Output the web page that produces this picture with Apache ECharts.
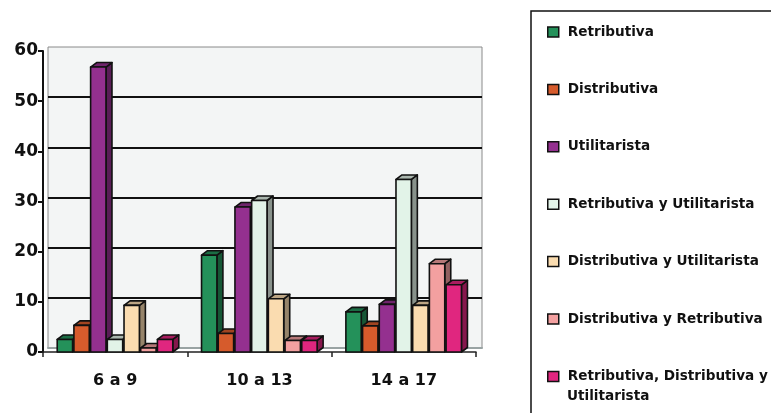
<!DOCTYPE html>
<html><head><meta charset="utf-8">
<script src="https://cdn.jsdelivr.net/npm/echarts@6/dist/echarts.min.js"></script>
<style>html,body{margin:0;padding:0;background:#fff}#c{width:771px;height:413px}</style>
</head><body><div id="c"></div>
<script>
const categories = ['6 a 9', '10 a 13', '14 a 17'];
const seriesNames = ['Retributiva', 'Distributiva', 'Utilitarista', 'Retributiva y Utilitarista', 'Distributiva y Utilitarista', 'Distributiva y Retributiva', 'Retributiva, Distributiva y Utilitarista'];
const retributiva = [2.5, 19.3, 8.0];
const distributiva = [5.3, 3.7, 5.2];
const utilitarista = [56.8, 28.9, 9.5];
const retribUtil = [2.5, 30.2, 34.4];
const distribUtil = [9.3, 10.6, 9.3];
const distribRetrib = [0.8, 2.3, 17.6];
const retribDistribUtil = [2.5, 2.3, 13.4];
const yTicks = [0, 10, 20, 30, 40, 50, 60];

const seriesValues = [retributiva, distributiva, utilitarista, retribUtil, distribUtil, distribRetrib, retribDistribUtil];
const colors = ['#24915a', '#d65b2c', '#94308f', '#e2f3e8', '#fadcb0', '#f3a0a0', '#e0267f'];

function shade(hex, f) {
  const n = parseInt(hex.slice(1), 16);
  const r = n >> 16 & 255, g = n >> 8 & 255, b = n & 255;
  return 'rgb(' + Math.round(r * f) + ',' + Math.round(g * f) + ',' + Math.round(b * f) + ')';
}
const DX = 6, DY = 4.5, N = 7, GROUP = 0.81, FRONT = 0.92;
function makeRender(i) {
  return function (params, api) {
    const cat = api.value(0), v = api.value(1);
    const c = api.coord([cat, v]);
    const b = api.coord([cat, 0]);
    const band = api.size([1, 0])[0];
    const pitch = band * GROUP / N;
    const w = pitch * FRONT;
    const x = c[0] - band * GROUP / 2 + i * pitch + 0.5;
    const yt = c[1], yb = b[1];
    const col = colors[i];
    const st = { stroke: '#111', lineWidth: 1.6, lineJoin: 'round' };
    return {
      type: 'group', children: [
        { type: 'polygon', shape: { points: [[x + w, yt], [x + w + DX, yt - DY], [x + w + DX, yb - DY], [x + w, yb]] }, style: Object.assign({ fill: shade(col, 0.6) }, st) },
        { type: 'polygon', shape: { points: [[x, yt], [x + DX, yt - DY], [x + w + DX, yt - DY], [x + w, yt]] }, style: Object.assign({ fill: shade(col, 0.75) }, st) },
        { type: 'rect', shape: { x: x, y: yt, width: w, height: yb - yt }, style: Object.assign({ fill: col }, st) }
      ]
    };
  };
}

const chart = echarts.init(document.getElementById('c'), null, { renderer: 'canvas' });
const fontFam = '"DejaVu Sans", sans-serif';
chart.setOption({
  animation: false,
  backgroundColor: '#fff',
  grid: [
    { left: 48, right: 289, top: 47, bottom: 65, show: true, backgroundColor: '#f3f5f5', borderColor: '#8a8a8a', borderWidth: 1 },
    { left: 43, right: 295, top: 51, bottom: 61 }
  ],
  xAxis: [
    { gridIndex: 0, type: 'category', data: categories, axisLine: { lineStyle: { color: '#99a3a3', width: 2 } }, axisTick: { show: false }, axisLabel: { show: false } },
    { gridIndex: 1, type: 'category', data: categories,
      axisLine: { lineStyle: { color: '#222', width: 1.5 } },
      axisTick: { show: true, length: 5, lineStyle: { color: '#222', width: 1.5 } },
      axisLabel: { fontFamily: fontFam, fontWeight: 'bold', fontSize: 16, color: '#111', margin: 21 } }
  ],
  yAxis: [
    { gridIndex: 0, type: 'value', min: yTicks[0], max: yTicks[yTicks.length - 1], interval: yTicks[1] - yTicks[0],
      axisLine: { show: false }, axisTick: { show: false }, axisLabel: { show: false },
      splitLine: { show: true, showMinLine: false, showMaxLine: false, lineStyle: { color: '#111', width: 2 } } },
    { gridIndex: 1, type: 'value', min: yTicks[0], max: yTicks[yTicks.length - 1], interval: yTicks[1] - yTicks[0],
      axisLine: { show: true, lineStyle: { color: '#111', width: 2 } },
      axisTick: { show: true, length: 5, lineStyle: { color: '#111', width: 2 } },
      splitLine: { show: false },
      axisLabel: { fontFamily: fontFam, fontWeight: 'bold', fontSize: 17, color: '#111', margin: 5 } }
  ],
  legend: {
    orient: 'vertical', left: 542, top: 18, itemWidth: 11, itemHeight: 10, itemGap: 39.4, icon: 'rect',
    data: seriesNames, selectedMode: false,
    itemStyle: { borderColor: '#111', borderWidth: 1.5 },
    textStyle: { fontFamily: fontFam, fontWeight: 'bold', fontSize: 13.6, color: '#111', lineHeight: 18, padding: [0, 0, 0, 4] },
    formatter: function (n) { return n === seriesNames[6] ? 'Retributiva, Distributiva y' : n; }
  },
  graphic: [
    { type: 'rect', silent: true, shape: { x: 531, y: 11, width: 300, height: 450 }, style: { fill: 'none', stroke: '#111', lineWidth: 1.5 } },
    { type: 'text', silent: true, x: 567, y: 389, style: { text: 'Utilitarista', font: 'bold 13.6px "DejaVu Sans"', fill: '#111' } }
  ],
  series: seriesValues.map(function (arr, i) {
    return {
      type: 'custom', name: seriesNames[i], xAxisIndex: 1, yAxisIndex: 1,
      itemStyle: { color: colors[i] },
      encode: { x: 0, y: 1 },
      data: arr.map(function (v, k) { return [k, v]; }),
      renderItem: makeRender(i)
    };
  })
});
</script></body></html>
